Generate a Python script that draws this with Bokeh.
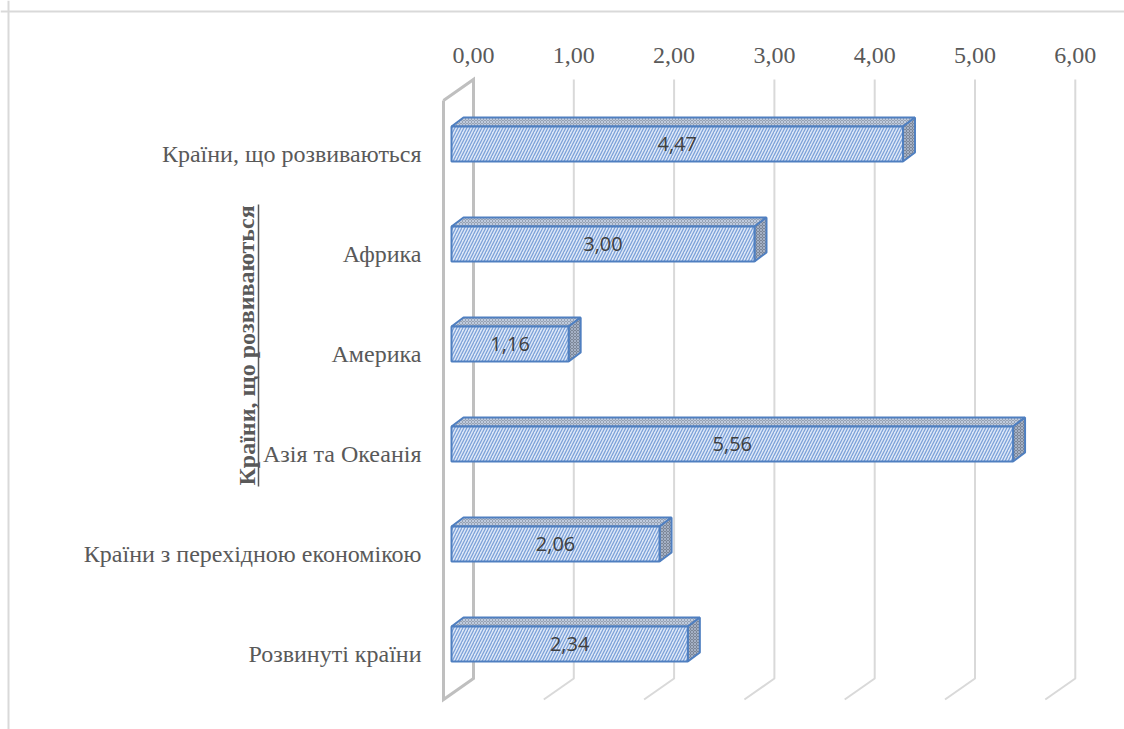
from bokeh.plotting import figure
from bokeh.models import Range1d, Span, ColumnDataSource
from bokeh.core.properties import value
from bokeh.embed import file_html
from bokeh.resources import INLINE

# ---- data ----
categories = ["Країни, що розвиваються", "Африка", "Америка", "Азія та Океанія",
              "Країни з перехідною економікою", "Розвинуті країни"]
values = [4.47, 3.00, 1.16, 5.56, 2.06, 2.34]
ticks = [0, 1, 2, 3, 4, 5, 6]
tick_labels = ["0,00", "1,00", "2,00", "3,00", "4,00", "5,00", "6,00"]
axis_title = "Країни, що розвиваються"

# ---- geometry (pixel-based helpers) ----
PXX = 101.0     # px per value unit (front plane)
PXY = 100.0     # px per category step
X0 = 451.0      # page x of value 0 (front)
Y0 = 143.5      # page y of first bar centre
ORG = 0         # page offset of the figure
W, H = 1124, 729

def xd(px):
    return (px - X0) / PXX

def yd(py):
    return (Y0 - py) / PXY

p = figure(width=W, height=H, output_backend="svg", toolbar_location=None,
           x_range=Range1d(xd(ORG), xd(ORG + W)), y_range=Range1d(yd(ORG + H), yd(ORG)),
           min_border=0)
p.axis.visible = False
p.grid.visible = False
p.outline_line_color = None
p.background_fill_color = "white"

# chart-area border (top and left)
p.add_layout(Span(location=yd(11), dimension="width", line_color="#d9d9d9", line_width=2))
p.add_layout(Span(location=xd(8), dimension="height", line_color="#d9d9d9", line_width=2))

# ---- gridlines on back wall and floor ----
back_off = 22.0
grid_top, grid_bot, floor_bot = yd(79), yd(678), yd(699)
gx = [xd(X0 + back_off + t * 100.3) for t in ticks]
for i, x in enumerate(gx):
    if i == 0:
        continue
    p.line([x, x, x - 30 / PXX], [grid_top, grid_bot, floor_bot], line_color="#d9d9d9", line_width=2)

# left side wall
x_back = gx[0]
x_front = x_back - 30 / PXX
p.line([x_front, x_back, x_back, x_front, x_front],
       [yd(100), grid_top, grid_bot, floor_bot, yd(100)],
       line_color="#bfbfbf", line_width=3, line_join="miter")

# tick labels (top)
p.text(x=gx, y=[yd(55)] * len(ticks), text=tick_labels, text_align="center",
       text_baseline="middle", text_font=value("Liberation Serif"),
       text_font_size="24px", text_color="#595959")

# ---- bars (3D look) ----
n = len(categories)
yc = [-i for i in range(n)]
hh = 35 / PXY / 2
dx = 12 / PXX
dy = 9 / PXY

top_xs, top_ys, side_xs, side_ys = [], [], [], []
for v, y in zip(values, yc):
    t, b = y + hh, y - hh
    top_xs.append([0, v, v + dx, dx])
    top_ys.append([t, t, t + dy, t + dy])
    side_xs.append([v, v + dx, v + dx, v])
    side_ys.append([t, t + dy, b + dy, b])

p.patches(top_xs, top_ys, fill_color="#97a2b2", hatch_pattern="x", hatch_color="#c9d6ea",
          hatch_scale=3, hatch_weight=0.8, line_color="#4f7fc0", line_width=2)
p.patches(side_xs, side_ys, fill_color="#7c8696", hatch_pattern="x", hatch_color="#aebbd0",
          hatch_scale=3, hatch_weight=0.8, line_color="#4f7fc0", line_width=2)

src = ColumnDataSource(dict(
    left=[0] * n, right=values, top=[y + hh for y in yc], bottom=[y - hh for y in yc],
    xm=[v / 2 for v in values], y=yc,
    lab=[f"{v:.2f}".replace(".", ",") for v in values]))
p.quad(left="left", right="right", top="top", bottom="bottom", source=src,
       fill_color="#dfe8f7", hatch_pattern="/", hatch_color="#7ba1d8", hatch_scale=6,
       hatch_weight=1.3, line_color="#4f7fc0", line_width=2)

p.text(x="xm", y="y", text="lab", source=src, text_align="center", text_baseline="middle",
       text_font=value("Open Sans"), text_font_size="20px", text_color="#404040")

# category labels
p.text(x=[xd(421)] * n, y=[y - 9.5 / PXY for y in yc], text=categories, text_align="right",
       text_baseline="middle", text_font=value("Liberation Serif"), text_font_size="24px",
       text_color="#595959")

# axis title (rotated, bold, underlined)
p.text(x=[xd(246)], y=[yd(345)], text=[axis_title], angle=1.5708, text_align="center",
       text_baseline="middle", text_font=value("Liberation Serif"), text_font_size="24px",
       text_font_style="bold", text_color="#595959")
p.line([xd(258), xd(258)], [yd(204), yd(486)], line_color="#595959", line_width=1.5)

open("out.html", "w").write(file_html(p, INLINE))
